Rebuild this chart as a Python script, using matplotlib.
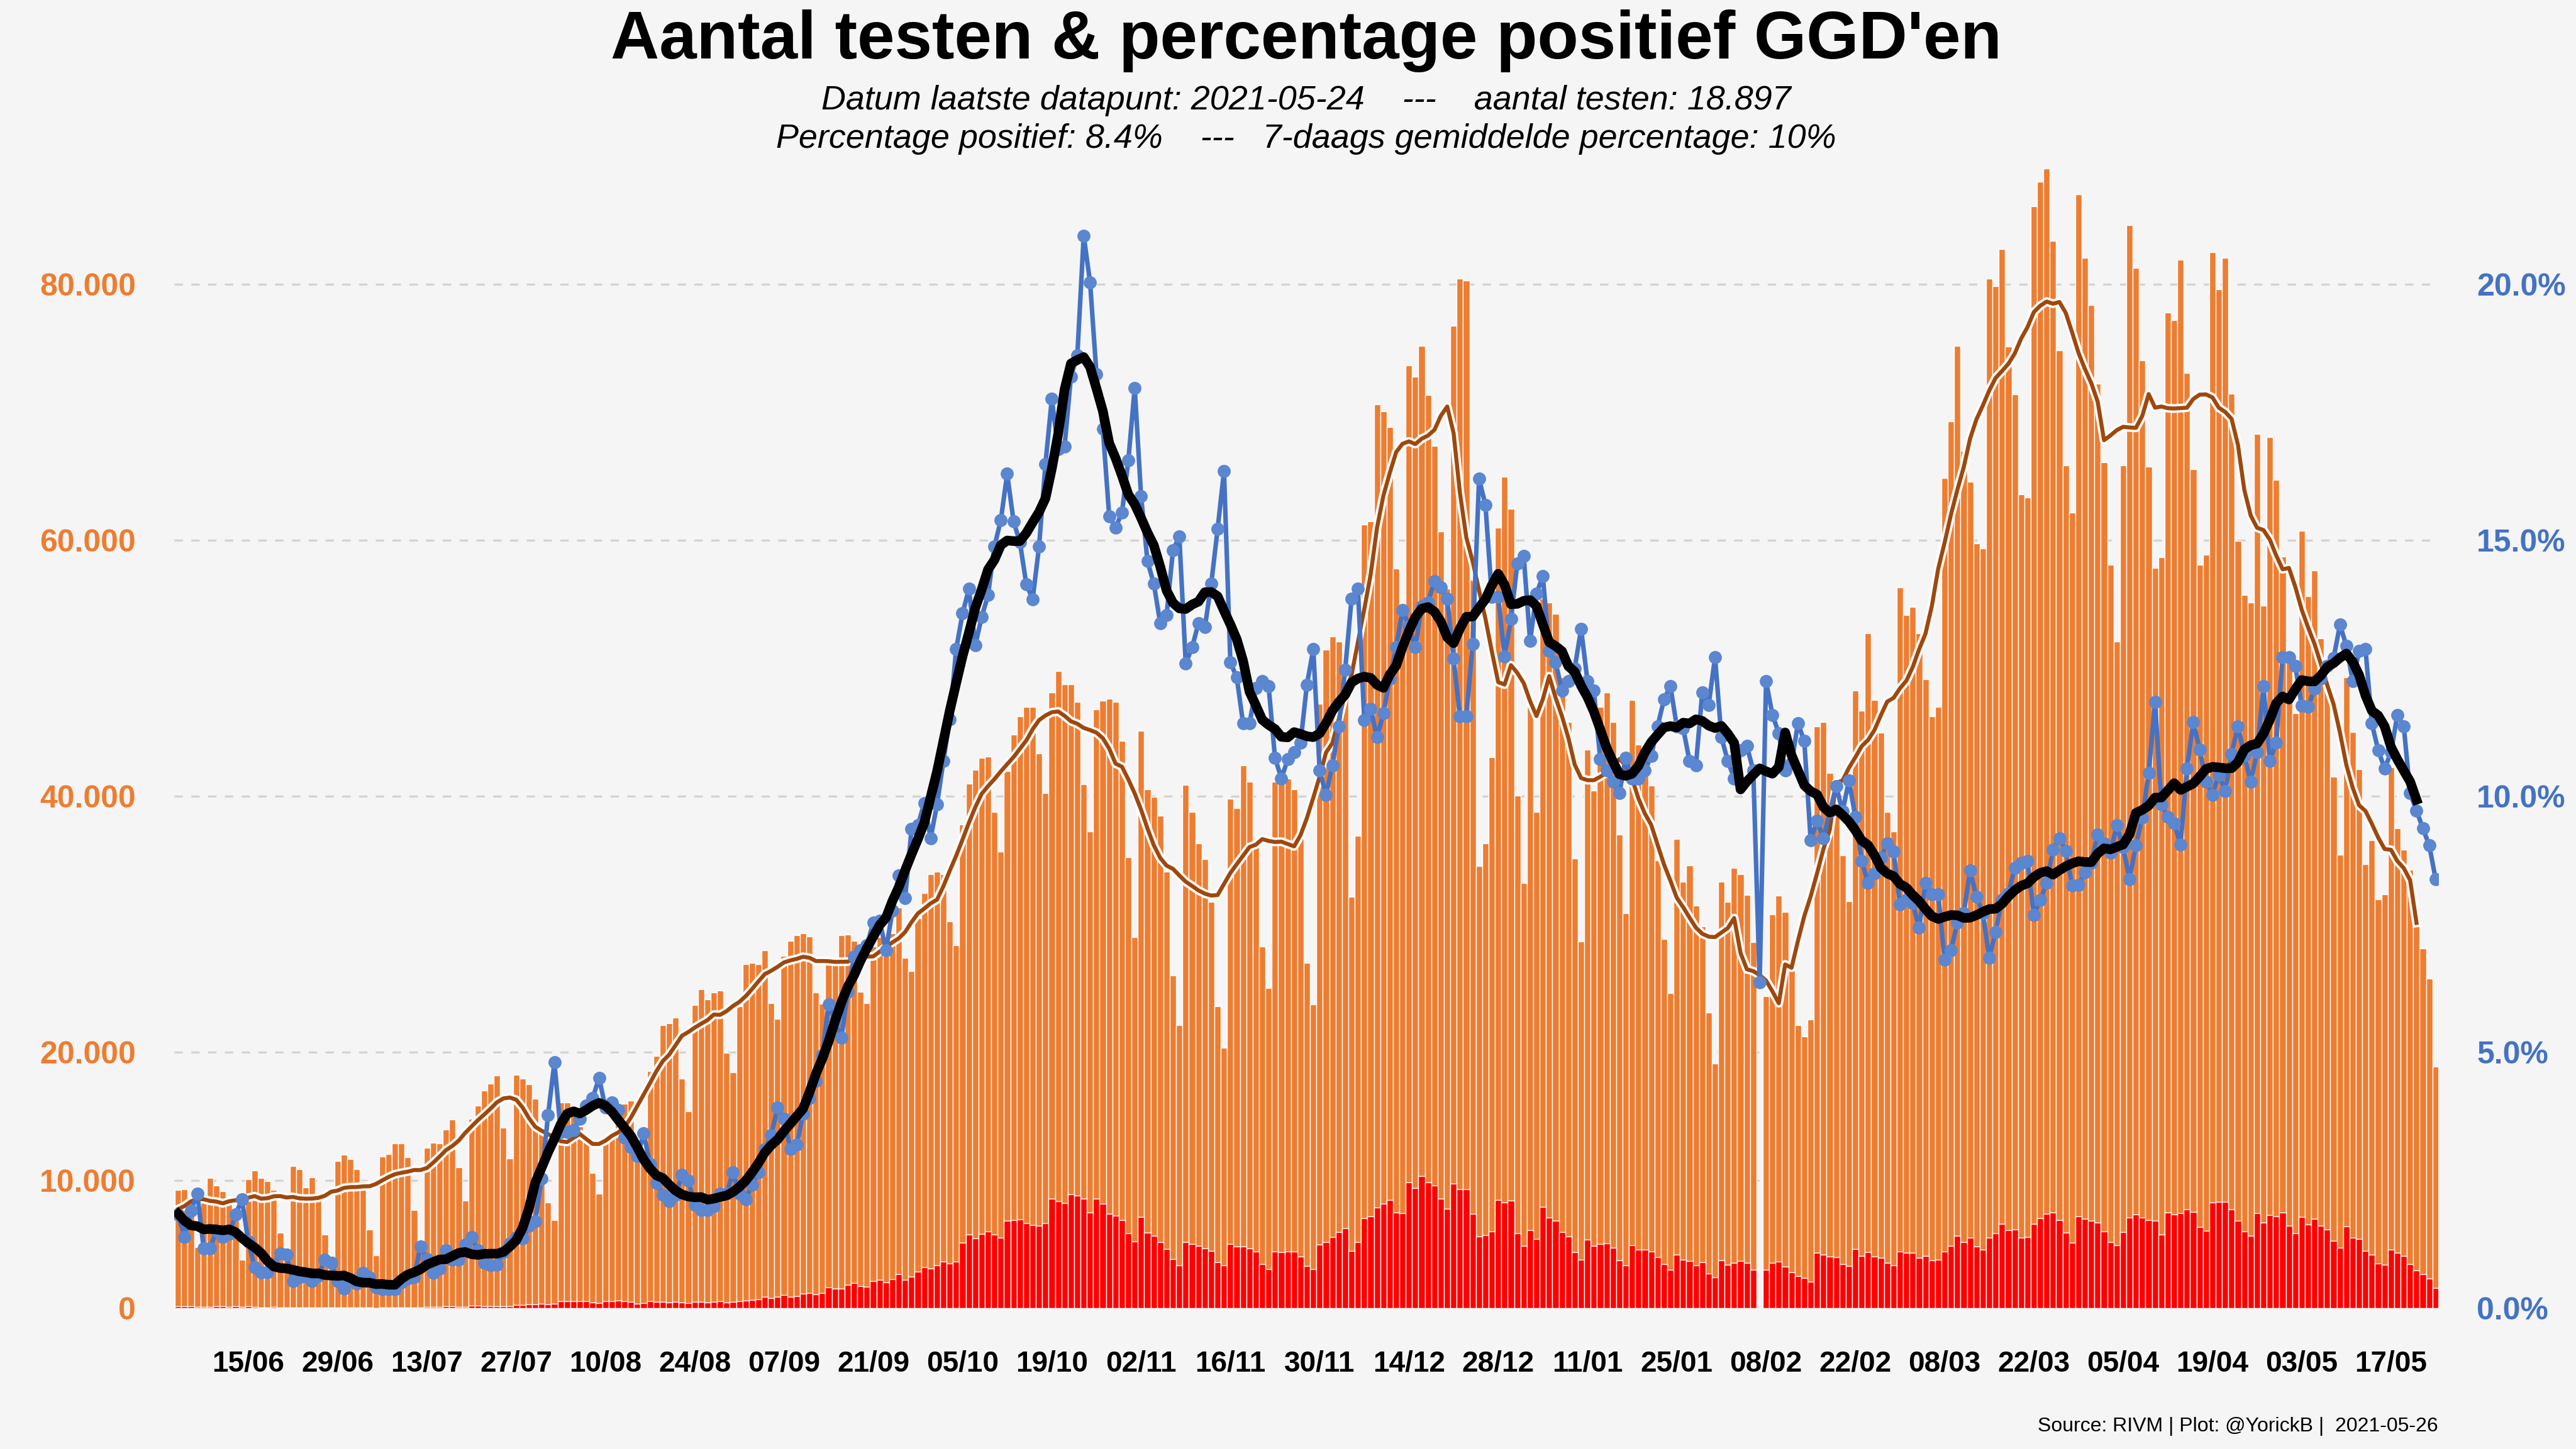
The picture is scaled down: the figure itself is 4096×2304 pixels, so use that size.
import numpy as np
import pandas as pd
import matplotlib
matplotlib.use("Agg")
from matplotlib import pyplot as plt
import matplotlib.patheffects as pe

plt.rcParams['font.family'] = ['Liberation Sans', 'DejaVu Sans']

# dagelijkse data GGD, 2020-06-04 t/m 2021-05-24
dates = pd.date_range('2020-06-04', '2021-05-24', freq='D')

# aantal testen per dag
tests = [
    9240, 9300, 7690, 4750, 8920, 10170, 9600, 9140, 8400, 7300,
    3800, 10060, 10760, 10180, 9940, 9240, 5910, 4040, 11110, 10880,
    9420, 10230, 8480, 5730, 4090, 11520, 11990, 11640, 10880, 9940,
    6140, 4150, 11870, 12050, 12870, 12870, 11810, 7660, 4910, 12510,
    12920, 12870, 13980, 14740, 11000, 8420, 14800, 15850, 17020, 17540,
    18190, 14090, 11700, 18240, 17950, 17490, 16370, 14000, 8250, 6900,
    16080, 16080, 15790, 14200, 13570, 10590, 8950, 13280, 13450, 15790,
    15970, 16200, 12460, 11870, 18540, 19710, 22100, 22280, 22690, 17950,
    15380, 23680, 24910, 24150, 24680, 24800, 19940, 18420, 23570, 26900,
    26960, 26900, 27950, 23860, 22630, 27540, 28710, 29120, 29300, 29060,
    24680, 23800, 26960, 26960, 29120, 29180, 28710, 24740, 23860, 28250,
    29000, 28540, 29300, 31290, 27370, 26320, 30470, 32460, 33920, 34090,
    33920, 30230, 28360, 37780, 40990, 42050, 42980, 43100, 38770, 35670,
    41990, 44800, 46260, 46960, 46960, 43330, 40230, 48130, 49770, 48770,
    48770, 47370, 40940, 37250, 46780, 47490, 47600, 47370, 44330, 35260,
    29010, 45090, 40530, 39940, 38480, 34090, 26020, 22110, 40880, 38770,
    36320, 35090, 31750, 23570, 20350, 39820, 39060, 42400, 41110, 36550,
    28250, 25030, 41110, 42110, 41400, 40530, 36730, 26960, 23740, 47250,
    51460, 52510, 52110, 49880, 32160, 36900, 61230, 61460, 70640, 70060,
    68830, 57780, 54440, 73680, 72800, 75210, 71350, 67370, 60700, 56200,
    76780, 80470, 80290, 56900, 34560, 36320, 43040, 61000, 64970, 62460,
    40060, 33220, 46960, 38770, 55440, 55150, 54270, 49300, 45790, 35150,
    28650, 43630, 40470, 46960, 48130, 45790, 37020, 30880, 47540, 44040,
    43450, 40820, 34970, 28830, 24620, 36670, 33330, 34620, 31460, 29820,
    23100, 19120, 33330, 31750, 34390, 33920, 32280, 28600, 0, 24390,
    30760, 32220, 30940, 26370, 22100, 21230, 22570, 45440, 45790, 41810,
    38890, 35380, 31810, 48250, 46670, 52750, 47540, 44970, 38770, 37250,
    56320, 54150, 54800, 52750, 49120, 46260, 46960, 64850, 69300, 75210,
    66960, 64560, 59770, 59360, 80470, 79880, 82750, 75150, 71400, 63570,
    63330, 86080, 88010, 89060, 83390, 74850, 65850, 62160, 87020, 82050,
    78360, 72220, 66080, 58070, 52110, 65850, 84620, 81290, 74040, 65730,
    57840, 58660, 77780, 77200, 81930, 73100, 65560, 58070, 58890, 82520,
    79590, 82050, 71460, 59940, 55730, 55150, 68300, 54910, 68070, 64740,
    58710, 50470, 46490, 60760, 55620, 57660, 52340, 49010, 41520, 35440,
    49300, 45030, 42110, 34680, 36550, 31930, 32340, 42280, 37490, 35850,
    34270, 30350, 28130, 25730, 18897,
]

# percentage positief per dag
pct = [
    1.83, 1.39, 1.90, 2.24, 1.17, 1.17, 1.51, 1.39, 1.45, 1.83,
    2.12, 1.30, 0.80, 0.70, 0.70, 0.85, 1.07, 1.04, 0.53, 0.60,
    0.63, 0.53, 0.63, 0.95, 0.88, 0.53, 0.38, 0.56, 0.48, 0.69,
    0.60, 0.41, 0.37, 0.37, 0.37, 0.50, 0.58, 0.60, 1.21, 0.96,
    0.69, 0.77, 1.13, 0.95, 0.95, 1.24, 1.39, 1.13, 0.89, 0.83,
    0.85, 1.10, 1.26, 1.39, 1.36, 1.61, 1.70, 2.53, 3.77, 4.80,
    3.44, 3.44, 3.48, 3.70, 3.96, 4.10, 4.50, 3.92, 4.02, 3.87,
    3.33, 3.14, 2.97, 3.41, 2.82, 2.45, 2.21, 2.09, 2.21, 2.60,
    2.50, 2.02, 1.92, 1.92, 1.99, 2.24, 2.24, 2.65, 2.24, 2.13,
    2.41, 2.65, 3.11, 3.38, 3.92, 3.70, 3.11, 3.19, 3.80, 4.11,
    4.43, 4.94, 5.94, 5.60, 5.28, 6.18, 6.87, 6.99, 7.09, 7.53,
    7.57, 6.99, 7.76, 8.45, 8.01, 9.36, 9.43, 9.87, 9.18, 9.84,
    10.69, 11.50, 12.87, 13.57, 14.05, 12.95, 13.50, 13.93, 14.88, 15.39,
    16.30, 15.37, 14.96, 14.14, 13.85, 14.88, 16.49, 17.76, 16.78, 16.83,
    18.20, 18.61, 20.95, 20.04, 18.25, 17.18, 15.47, 15.25, 15.54, 16.56,
    17.98, 15.86, 14.59, 14.15, 13.38, 13.54, 14.81, 15.07, 12.59, 12.91,
    13.38, 13.30, 14.15, 15.22, 16.35, 12.62, 12.32, 11.42, 11.42, 12.11,
    12.25, 12.15, 10.75, 10.35, 10.72, 10.86, 11.04, 12.18, 12.87, 10.50,
    10.03, 10.60, 11.37, 12.47, 13.86, 14.05, 11.49, 11.71, 11.15, 11.62,
    12.30, 12.91, 13.64, 13.32, 12.91, 13.71, 13.79, 14.20, 14.08, 13.86,
    12.69, 11.56, 11.56, 12.98, 16.20, 15.69, 13.90, 13.89, 12.73, 13.46,
    14.55, 14.69, 13.03, 13.96, 14.30, 12.84, 12.62, 12.06, 12.25, 12.50,
    13.27, 12.25, 12.06, 10.72, 10.50, 10.28, 10.06, 10.75, 10.35, 10.35,
    10.50, 10.79, 11.37, 11.89, 12.15, 11.37, 11.33, 10.69, 10.60, 12.03,
    11.78, 12.72, 11.15, 10.69, 10.35, 10.90, 10.98, 10.50, 6.36, 12.25,
    11.59, 11.23, 10.50, 10.65, 11.42, 11.08, 9.14, 9.52, 9.18, 9.70,
    10.20, 9.70, 10.31, 9.60, 8.74, 8.30, 8.49, 8.80, 9.08, 8.92,
    7.89, 7.97, 7.91, 7.43, 8.30, 8.08, 8.08, 6.81, 6.99, 7.53,
    7.72, 8.55, 8.04, 7.72, 6.84, 7.35, 7.97, 8.10, 8.60, 8.70,
    8.74, 7.68, 7.97, 8.30, 8.96, 9.18, 8.93, 8.26, 8.27, 8.52,
    8.70, 9.25, 9.08, 8.90, 9.43, 9.00, 8.38, 9.04, 9.58, 10.45,
    11.84, 9.84, 9.59, 9.47, 9.06, 10.54, 11.45, 10.91, 10.28, 10.03,
    10.42, 10.10, 10.83, 11.37, 10.80, 10.28, 10.86, 12.15, 10.69, 11.05,
    12.72, 12.72, 12.54, 11.77, 11.74, 12.10, 12.30, 12.55, 12.70, 13.35,
    12.94, 12.25, 12.84, 12.88, 11.42, 10.90, 10.54, 10.86, 11.59, 11.37,
    10.06, 9.72, 9.37, 9.04, 8.38,
]

left_ticks = [0, 10000, 20000, 40000, 60000, 80000]
right_ticks = [0, 5, 10, 15, 20]

title = "Aantal testen & percentage positief GGD'en"
sub1 = "Datum laatste datapunt: 2021-05-24    ---    aantal testen: 18.897"
sub2 = "Percentage positief: 8.4%    ---   7-daags gemiddelde percentage: 10%"
source = "Source: RIVM | Plot: @YorickB |  2021-05-26"

ORANJE = '#ED7D31'
ROOD = '#FF0000'
BLAUW = '#4472C4'
BRUIN = '#9E480E'
BG = '#F5F5F5'

df = pd.DataFrame({'tests': tests, 'pct': pct}, index=dates)
df['pos'] = df['tests'] * df['pct'] / 100
# 7-daags gemiddelde (gecentreerd), laatste 3 dagen nog niet bekend
df['tests7'] = df['tests'].rolling(7, center=True, min_periods=1).mean()
df['pct7'] = df['pct'].rolling(7, center=True, min_periods=1).mean()
df.loc[df.index[-3:], ['tests7', 'pct7']] = np.nan

x = np.arange(len(df))

fig = plt.figure(figsize=(20.48, 11.52), dpi=200, facecolor=BG)
ax = fig.add_axes([0.0676, 0.0972, 0.8789, 0.7949])
ax.set_facecolor(BG)
ax2 = ax.twinx()

ax.bar(x, df['tests'], width=1.0, color=ORANJE, edgecolor='white', linewidth=0.5, zorder=2)
ax.bar(x, df['pos'], width=1.0, color=ROOD, edgecolor='white', linewidth=0.5, zorder=3)
ax.plot(x, df['tests7'], color=BRUIN, lw=2.3, zorder=4,
        path_effects=[pe.Stroke(linewidth=5.0, foreground='white'), pe.Normal()])

ax2.plot(x, df['pct'], color=BLAUW, lw=2.6, marker='o', ms=6.5,
         mfc='#5B86D0', mec='#5B86D0', zorder=3)
ax2.plot(x, df['pct7'], color='black', lw=5.5, zorder=4)

ax.set_xlim(-0.63, 354.4)
ax.set_ylim(0, 90000)
ax2.set_ylim(0, 22.5)

ax.set_yticks(left_ticks)
ax.set_yticklabels(['{:,}'.format(v).replace(',', '.') for v in left_ticks],
                   color=ORANJE, fontweight='bold', fontsize=18)
ax2.set_yticks(right_ticks)
ax2.set_yticklabels(['{:.1f}%'.format(v) for v in right_ticks],
                    color=BLAUW, fontweight='bold', fontsize=18)

xt = x[11::14]
ax.set_xticks(xt)
ax.set_xticklabels([d.strftime('%d/%m') for d in df.index[xt]],
                   fontweight='bold', fontsize=16.5)

ax.tick_params(axis='x', length=0, pad=24)
ax.tick_params(axis='y', length=0, pad=22)
ax2.tick_params(axis='y', length=0, pad=22)

ax.set_axisbelow(True)
ax.yaxis.grid(True, color='#D3D3D3', lw=1.2, ls=(0, (4, 4)))
for a in (ax, ax2):
    for s in a.spines.values():
        s.set_visible(False)

cx = 0.0676 + 0.8789 / 2
fig.text(cx, 0.972, title, ha='center', va='center', fontsize=38.5, fontweight='bold')
fig.text(cx, 0.9306, sub1, ha='center', va='center', fontsize=19.4, style='italic')
fig.text(cx, 0.904, sub2, ha='center', va='center', fontsize=19.4, style='italic')
fig.text(0.9465, 0.0156, source, ha='right', va='center', fontsize=11.5)

fig.savefig('out.png', dpi=200, facecolor=BG)
